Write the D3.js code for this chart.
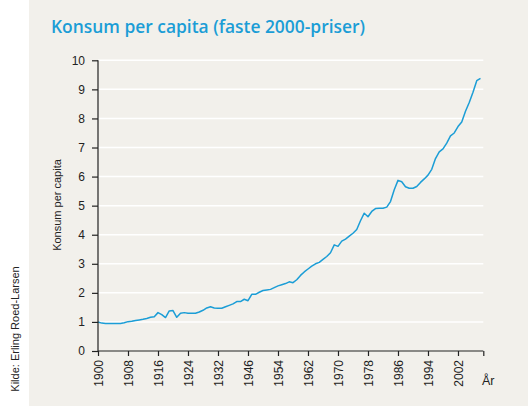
<!DOCTYPE html>
<html><head><meta charset="utf-8">
<script src="https://cdn.jsdelivr.net/npm/d3@7"></script>
<style>html,body{margin:0;padding:0;background:#fff;}svg{display:block;}</style>
</head><body>
<svg id="c" width="528" height="406"></svg>
<script>
const years = [1900,1901,1902,1903,1904,1905,1906,1907,1908,1909,1910,1911,1912,1913,1914,1915,1916,1917,1918,1919,
1920,1921,1922,1923,1924,1925,1926,1927,1928,1929,1930,1931,1932,1933,1934,1935,1936,1937,1938,1939,
1946,1947,1948,1949,1950,1951,1952,1953,1954,1955,1956,1957,1958,1959,1960,1961,1962,1963,1964,1965,
1966,1967,1968,1969,1970,1971,1972,1973,1974,1975,1976,1977,1978,1979,1980,1981,1982,1983,1984,1985,
1986,1987,1988,1989,1990,1991,1992,1993,1994,1995,1996,1997,1998,1999,2000,2001,2002,2003,2004,2005,
2006,2007,2008];
const values = [1.00,0.96,0.95,0.95,0.95,0.95,0.95,0.97,1.01,1.02,1.05,1.07,1.09,1.12,1.16,1.18,1.32,1.25,1.15,1.38,
1.39,1.16,1.30,1.32,1.30,1.30,1.30,1.34,1.40,1.48,1.52,1.48,1.47,1.47,1.52,1.57,1.62,1.70,1.70,1.78,
1.73,1.95,1.95,2.02,2.08,2.10,2.12,2.18,2.24,2.28,2.32,2.38,2.35,2.45,2.60,2.72,2.82,2.92,3.00,3.05,
3.15,3.25,3.38,3.65,3.60,3.78,3.85,3.95,4.05,4.18,4.48,4.74,4.62,4.80,4.90,4.91,4.91,4.95,5.14,5.55,
5.87,5.82,5.65,5.60,5.60,5.66,5.80,5.92,6.05,6.25,6.62,6.85,6.95,7.15,7.40,7.50,7.72,7.88,8.25,8.55,
8.90,9.30,9.38];
const yTicks = [0,1,2,3,4,5,6,7,8,9,10];
const xTickLabels = ["1900","1908","1916","1924","1932","1946","1954","1962","1970","1978","1986","1994","2002"];
const title = "Konsum per capita (faste 2000-priser)";
const yLabel = "Konsum per capita";
const xLabel = "År";
const source = "Kilde: Erling Roed-Larsen";

const svg = d3.select("#c");
svg.append("rect").attr("x",29).attr("y",0).attr("width",499).attr("height",406).attr("fill","#f2f0eb");

const x = d3.scaleLinear().domain([0, 102.75]).range([98, 483.3]);
const y = d3.scaleLinear().domain([0, 10]).range([351, 60.3]);

// gridlines
svg.append("g").selectAll("line").data(yTicks.filter(d=>d>0)).join("line")
  .attr("x1", x(0)).attr("x2", x(102.75))
  .attr("y1", d=>y(d)).attr("y2", d=>y(d))
  .attr("stroke","#ffffff").attr("stroke-width",1.5);

// line
const pts = values.map((v,i)=>[i,v]);
svg.append("path").datum(pts)
  .attr("d", d3.line().x(d=>x(d[0])).y(d=>y(d[1])))
  .attr("fill","none").attr("stroke","#1b9dd6").attr("stroke-width",1.5).attr("stroke-linejoin","round");

// y axis
const yAxis = svg.append("g").attr("transform",`translate(${x(0)},0)`)
  .call(d3.axisLeft(y).tickValues(yTicks).tickSize(6).tickPadding(7).tickFormat(d3.format("d")));
yAxis.selectAll("path,line").attr("stroke","#222").attr("stroke-width",1.2);
yAxis.select(".domain").attr("d", `M-0,${y(10)}V${y(0)}`);
yAxis.selectAll("text").attr("font-family","Liberation Sans, Arial, sans-serif").attr("font-size",12).attr("fill","#222");

// x axis
const tickIdx = xTickLabels.map(l => years.indexOf(+l));
const xAxis = svg.append("g").attr("transform",`translate(0,${y(0)})`)
  .call(d3.axisBottom(x).tickValues(tickIdx.concat([102.75])).tickSize(5)
    .tickFormat((d,i)=> i < xTickLabels.length ? xTickLabels[i] : ""));
xAxis.selectAll("path,line").attr("stroke","#222").attr("stroke-width",1.2);
xAxis.select(".domain").attr("d", `M${x(0)},0H${x(102.75)}`);
xAxis.selectAll("text")
  .attr("font-family","Liberation Sans, Arial, sans-serif").attr("font-size",12).attr("fill","#222")
  .attr("text-anchor","end").attr("transform","rotate(-90)")
  .attr("x",-9).attr("y",0).attr("dy","0.35em");

// title
svg.append("text").attr("x",51).attr("y",33).text(title)
  .attr("font-family","Open Sans, sans-serif").attr("font-weight",600).attr("font-size",18.5)
  .attr("fill","#1b9dd6").attr("textLength",314).attr("lengthAdjust","spacingAndGlyphs");

// y label
svg.append("text").attr("transform","translate(61,205) rotate(-90)").attr("text-anchor","middle")
  .text(yLabel).attr("font-family","Liberation Sans, Arial, sans-serif").attr("font-size",11).attr("fill","#222");

// x label
svg.append("text").attr("x",482).attr("y",385).text(xLabel)
  .attr("font-family","Liberation Sans, Arial, sans-serif").attr("font-size",12.5).attr("fill","#222");

// source
svg.append("text").attr("transform","translate(19,329) rotate(-90)").attr("text-anchor","middle")
  .text(source).attr("font-family","Liberation Sans, Arial, sans-serif").attr("font-size",11).attr("fill","#222");
</script>
</body></html>
